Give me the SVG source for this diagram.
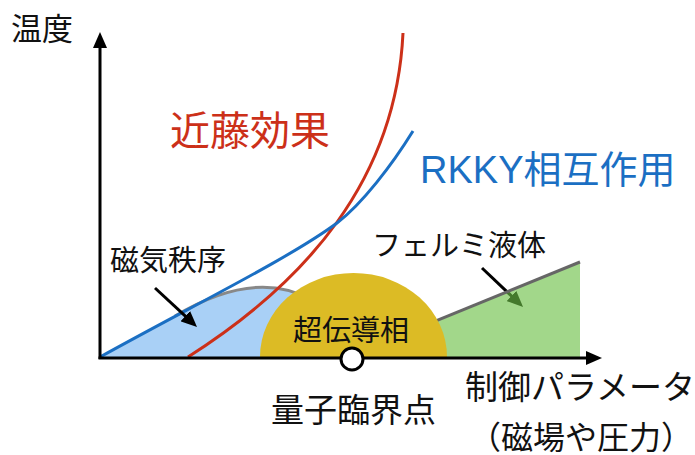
<svg xmlns="http://www.w3.org/2000/svg" width="695" height="455" viewBox="0 0 695 455">
<defs>
<style>
text{font-family:"Liberation Sans","Noto Sans CJK JP",sans-serif;fill:#111}
.ax{stroke:#000;stroke-width:3;fill:none}
.ar{stroke:#000;stroke-width:3;fill:none}
</style>
<marker id="ah" markerUnits="userSpaceOnUse" markerWidth="16" markerHeight="14" refX="6" refY="7" orient="auto" viewBox="0 0 16 14">
<path d="M0,0 L16,7 L0,14 Z" fill="#000"/>
</marker>
</defs>
<rect width="695" height="455" fill="#fff"/>

<g id="phase-magnetic">
<path d="M100,357 L175,316 Q255,268 312,300 L312,357 Z" fill="#a9d0f6"/>
<path d="M175,316 Q255,268 312,300" fill="none" stroke="#888" stroke-width="3"/>
</g>

<g id="fermi-arrow">
<line class="ar" x1="482" y1="268" x2="515.8" y2="300.1" marker-end="url(#ah)"/>
</g>

<g id="phase-fermi">
<path d="M420,327.3 L580,262 L580,357 L420,357 Z" fill="#6cbf45" fill-opacity="0.63"/>
<line x1="420" y1="327.3" x2="580" y2="262" stroke="#666" stroke-width="3"/>
</g>

<g id="phase-sc">
<path d="M260,357 A93.5 84 0 0 1 447,357 Z" fill="#dcbb25"/>
</g>

<g id="curves">
<path d="M188,357 C306,282 396,180 403,33" fill="none" stroke="#cc3019" stroke-width="3"/>
<path d="M100,357 C190,307 290,258 337,223 C362,204 392,165 413,131" fill="none" stroke="#1b6fc3" stroke-width="3"/>
</g>

<g id="connectors">
<line class="ar" x1="155" y1="288" x2="189.7" y2="320.2" marker-end="url(#ah)"/>
<line class="ax" x1="100" y1="359" x2="100" y2="42" marker-end="url(#ah)"/>
<line class="ax" x1="98.5" y1="358" x2="592" y2="358" marker-end="url(#ah)"/>
</g>

<g id="qcp">
<circle cx="352" cy="359" r="11" fill="#fff" stroke="#000" stroke-width="3"/>
</g>

<g id="labels">
<text x="11" y="40" font-size="31">温度</text>
<text x="170" y="145" font-size="40" style="fill:#cc3019">近藤効果</text>
<text x="420" y="183" font-size="38" style="fill:#1b6fc3">RKKY相互作用</text>
<text x="110" y="271" font-size="29">磁気秩序</text>
<text x="372" y="256" font-size="29">フェルミ液体</text>
<text x="293" y="341" font-size="29">超伝導相</text>
<text x="271" y="422" font-size="33">量子臨界点</text>
<text x="465" y="399" font-size="33">制御パラメータ</text>
<text x="469" y="449" font-size="32">（磁場や圧力）</text>
</g>
</svg>
